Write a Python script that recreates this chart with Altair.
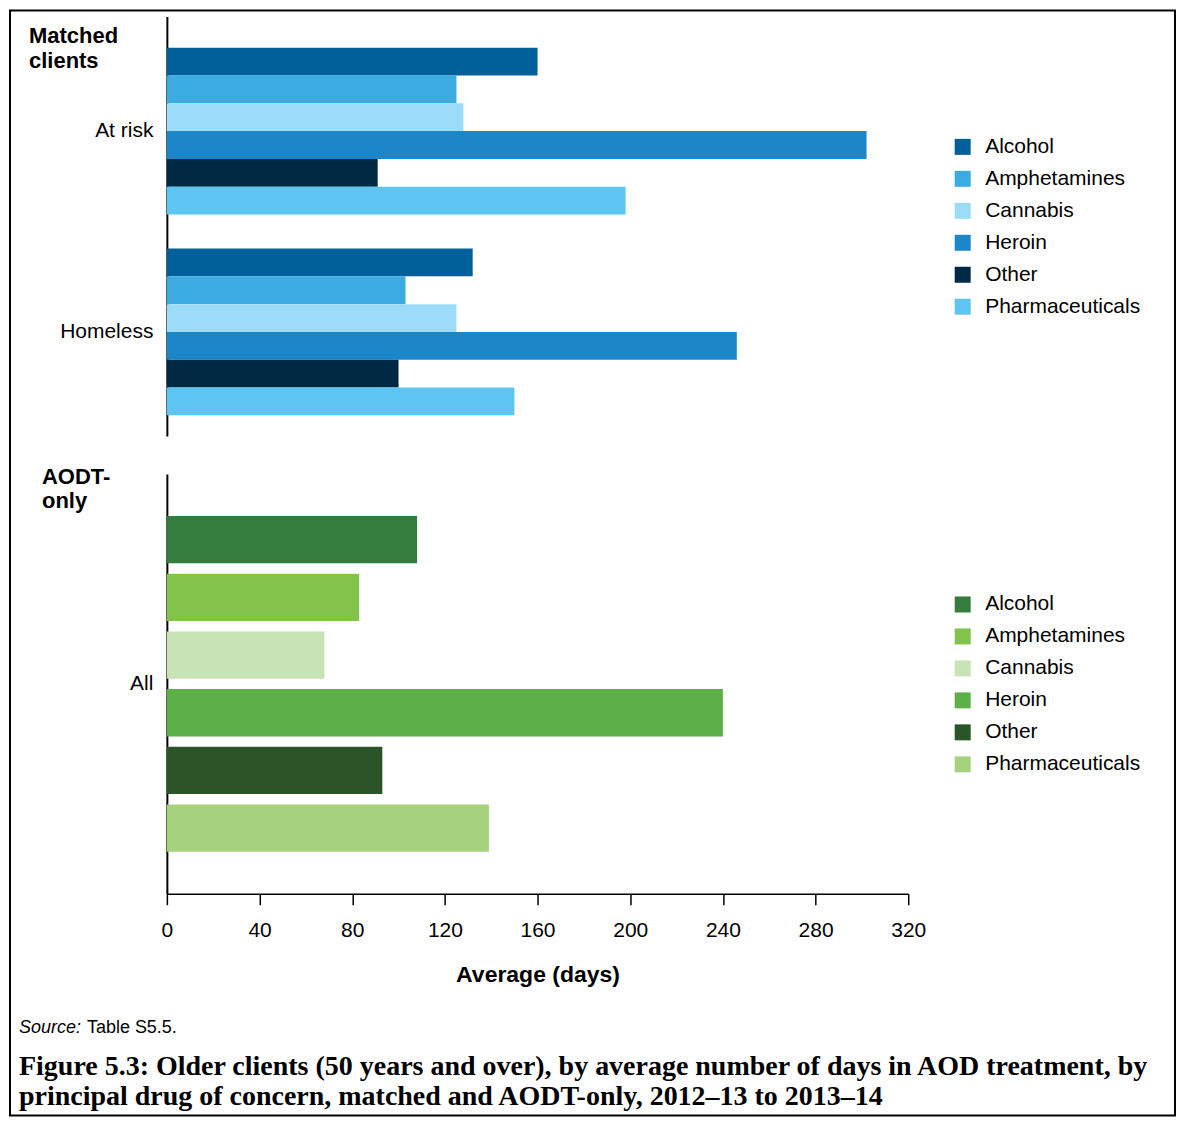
import altair as alt
import pandas as pd

# ---- data ----
drugs = ["Alcohol", "Amphetamines", "Cannabis", "Heroin", "Other", "Pharmaceuticals"]
matched_groups = ["At risk", "Homeless"]
at_risk_days = [160, 125, 128, 302, 91, 198]
homeless_days = [132, 103, 125, 246, 100, 150]
aodt_groups = ["All"]
aodt_all_days = [108, 83, 68, 240, 93, 139]
x_ticks = [0, 40, 80, 120, 160, 200, 240, 280, 320]
blue_colors = ["#01609a", "#3babe1", "#9ddcf9", "#1b87c9", "#002a44", "#5ec4f1"]
green_colors = ["#357d3f", "#82c34b", "#c8e3b5", "#5db047", "#2c5429", "#a7d27d"]

FONT = "Liberation Sans"

df_top = pd.DataFrame({
    "group": [matched_groups[0]] * 6 + [matched_groups[1]] * 6,
    "drug": drugs + drugs,
    "days": at_risk_days + homeless_days,
})
df_bot = pd.DataFrame({
    "group": aodt_groups * 6,
    "drug": drugs,
    "days": aodt_all_days,
})
one = pd.DataFrame({"k": [0]})

def legend(ly):
    return alt.Legend(title=None, orient="none", legendX=786, legendY=ly,
                      symbolType="square", symbolSize=256, symbolStrokeWidth=0,
                      symbolOpacity=1, labelFontSize=21, labelFont=FONT,
                      labelColor="black", labelOffset=12, rowPadding=10, padding=0)

def yaxis():
    return alt.Axis(title=None, ticks=False, labelPadding=14, labelFontSize=21,
                    labelFont=FONT, labelColor="black", domainColor="black",
                    domainWidth=2, labelAngle=0, grid=False)

x_scale = alt.Scale(domain=[0, 320], nice=False)

top_bars = alt.Chart(df_top).mark_bar().encode(
    x=alt.X("days:Q", scale=x_scale, axis=None),
    y=alt.Y("group:N", sort=matched_groups,
            scale=alt.Scale(paddingInner=0.17, paddingOuter=0.13, align=0.6),
            axis=yaxis()),
    yOffset=alt.YOffset("drug:N", sort=drugs,
                        scale=alt.Scale(paddingInner=0, paddingOuter=0)),
    color=alt.Color("drug:N", sort=drugs,
                    scale=alt.Scale(domain=drugs, range=blue_colors),
                    legend=legend(120)),
)

border = alt.Chart(one).mark_rect(fillOpacity=0, stroke="black", strokeWidth=2).encode(
    x=alt.value(-157), x2=alt.value(1009), y=alt.value(-6), y2=alt.value(1100)
)

top_title = alt.Chart(one).mark_text(
    text=["Matched", "clients"], align="left", baseline="alphabetic", font=FONT,
    fontSize=22, fontWeight="bold", lineHeight=25, color="black"
).encode(x=alt.value(-138), y=alt.value(27))

top = alt.layer(border, top_bars, top_title).properties(width=742, height=420)

bot_bars = alt.Chart(df_bot).mark_bar().encode(
    x=alt.X("days:Q", scale=x_scale,
            axis=alt.Axis(values=x_ticks, title="Average (days)", grid=False,
                          tickSize=11, tickColor="black", tickWidth=1.5,
                          domainColor="black", domainWidth=1.5,
                          labelFontSize=21, labelFont=FONT, labelColor="black",
                          labelPadding=15, labelFlush=False,
                          titleFontSize=23, titleFont=FONT, titleFontWeight="bold",
                          titleColor="black", titlePadding=23)),
    y=alt.Y("group:N", sort=aodt_groups,
            scale=alt.Scale(paddingInner=0, paddingOuter=0.125),
            axis=yaxis()),
    yOffset=alt.YOffset("drug:N", sort=drugs,
                        scale=alt.Scale(paddingInner=0.18, paddingOuter=0)),
    color=alt.Color("drug:N", sort=drugs,
                    scale=alt.Scale(domain=drugs, range=green_colors),
                    legend=legend(120)),
)

bot_title = alt.Chart(one).mark_text(
    text=["AODT-", "only"], align="left", baseline="alphabetic", font=FONT,
    fontSize=22, fontWeight="bold", lineHeight=24, color="black"
).encode(x=alt.value(-125), y=alt.value(10))

source_a = alt.Chart(one).mark_text(
    text="Source:", align="left", baseline="alphabetic", font=FONT,
    fontSize=18, fontStyle="italic", color="black"
).encode(x=alt.value(-148), y=alt.value(559))

source_b = alt.Chart(one).mark_text(
    text="Table S5.5.", align="left", baseline="alphabetic", font=FONT,
    fontSize=18, color="black"
).encode(x=alt.value(-80), y=alt.value(559))

caption = alt.Chart(one).mark_text(
    text=["Figure 5.3: Older clients (50 years and over), by average number of days in AOD treatment, by",
          "principal drug of concern, matched and AODT-only, 2012\u201313 to 2013\u201314"],
    align="left", baseline="alphabetic", font="Liberation Serif",
    fontSize=28, fontWeight="bold", lineHeight=30, color="black"
).encode(x=alt.value(-148), y=alt.value(601))

bottom = alt.layer(bot_bars, bot_title, source_a, source_b, caption).properties(
    width=742, height=420)

chart = alt.vconcat(top, bottom, spacing=38, bounds="flush").resolve_scale(
    color="independent", y="independent", yOffset="independent"
).properties(padding=0).configure(font=FONT, padding=0).configure_view(stroke="transparent")

chart.save("out.html", embed_options={"renderer": "svg", "actions": False})
